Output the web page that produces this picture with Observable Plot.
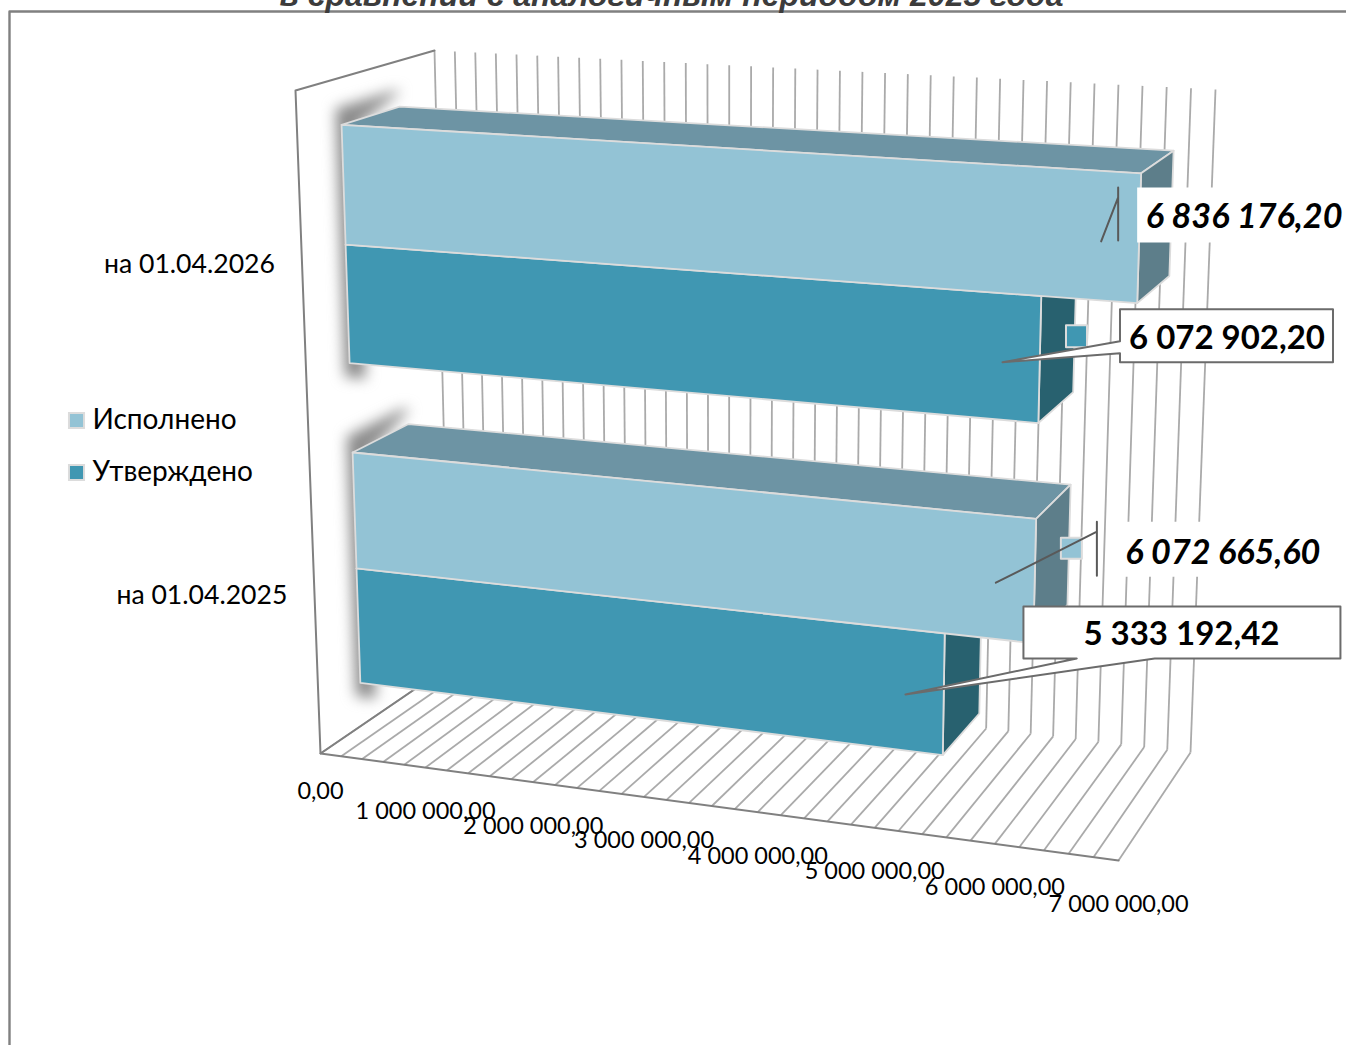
<!DOCTYPE html>
<html>
<head>
<meta charset="utf-8">
<script src="https://cdn.jsdelivr.net/npm/d3@7"></script>
<script src="https://cdn.jsdelivr.net/npm/@observablehq/plot@0.6"></script>
<style>html,body{margin:0;padding:0;background:#fff;overflow:hidden}svg{display:block}</style>
</head>
<body>
<div id="chart"></div>
<script>
const titleText = "в сравнении с аналогичным периодом 2025 года";
const periods = ["на 01.04.2026", "на 01.04.2025"];
const executed = [6836176.20, 6072665.60];
const approved = [6072902.20, 5333192.42];
const seriesNames = ["Исполнено", "Утверждено"];
const axisMax = 7000000;
const gridStep = 200000;
const labelStep = 1000000;

const executedColors = {front: "#93c3d5", top: "#6d94a4", side: "#5d7e8a"};
const approvedColors = {front: "#4097b2", top: "#6d94a4", side: "#28616f"};
const FONT = "Lato, 'Noto Sans', sans-serif";

// oblique view of the chart box: corners of the value (u), height (v) and depth (w) axes
const box = {
  flt: [295, 90], flb: [320, 753], frt: [1139, 139], frb: [1118, 860],
  blt: [434, 50], blb: [449, 665], brt: [1215, 89], brb: [1190, 752]
};
const lerp = (a, b, t) => [a[0] + (b[0] - a[0]) * t, a[1] + (b[1] - a[1]) * t];
const persU = t => t / (1.1 - 0.1 * t);
const persV = t => t / (0.967 + 0.033 * t);
function project(value, v, w) {
  const u = persU(value / axisMax), h = persV(v);
  const front = lerp(lerp(box.flt, box.frt, u), lerp(box.flb, box.frb, u), h);
  const back = lerp(lerp(box.blt, box.brt, u), lerp(box.blb, box.brb, u), h);
  const p = lerp(front, back, w);
  return {x: p[0], y: p[1]};
}
const fmt = d3.formatLocale({decimal: ",", thousands: " ", grouping: [3], currency: ["", ""]}).format(",.2f");

const wFront = 0.32, wBack = 0.74;
const bandSize = 1 / periods.length, outerGap = 0.0705, barSize = 0.181;

const poly = (pts, o) => Plot.line(pts, {x: "x", y: "y", curve: "linear-closed", ...o});
const edge = {stroke: "#dcdcdc", strokeWidth: 1.8, strokeLinejoin: "round"};

function barFaces(value, v0, v1, colors) {
  return [
    poly([project(0, v0, wBack), project(value, v0, wBack), project(value, v0, wFront), project(0, v0, wFront)], {fill: colors.top, ...edge}),
    poly([project(value, v0, wFront), project(value, v0, wBack), project(value, v1, wBack), project(value, v1, wFront)], {fill: colors.side, ...edge}),
    poly([project(0, v0, wFront), project(value, v0, wFront), project(value, v1, wFront), project(0, v1, wFront)], {fill: colors.front, ...edge})
  ];
}

function barShadow(v0, v1) {
  const sv0 = v0 - 0.024, sv1 = v1 + 0.022, left = -50000, right = 150000;
  return poly([
    project(left, sv0, wFront), project(left, sv0, wBack), project(15000, sv0, wBack),
    project(right, v0, wFront), project(right, sv1, wFront), project(left, sv1, wFront)
  ], {fill: "#8a8a8a", imageFilter: "blur(7px)"});
}

// value grid
const gridValues = d3.range(0, axisMax + 1, gridStep);
const labelValues = d3.range(0, axisMax + 1, labelStep);
const gridWall = gridValues.map(d => ({a: project(d, 0, 1), b: project(d, 1, 1)}));
const gridFloor = gridValues.map(d => ({a: project(d, 1, 1), b: project(d, 1, 0)}));
const gridStyle = {x1: d => d.a.x, y1: d => d.a.y, x2: d => d.b.x, y2: d => d.b.y, stroke: "#aaaaaa", strokeWidth: 1.8};

const tickData = labelValues.map(d => ({...project(d, 1, 0), label: fmt(d), value: d}));

// per-period bars
const bars = periods.flatMap((p, i) => {
  const v0 = i * bandSize + outerGap, vm = v0 + barSize, v1 = vm + barSize;
  return [
    barShadow(v0, v1),
    ...barFaces(approved[i], vm, v1, approvedColors),
    ...barFaces(executed[i], v0, vm, executedColors)
  ];
});

const catData = periods.map((p, i) => ({...project(0, (i + 0.5) * bandSize, 0), label: p}));

// callouts: offsets in pixels from the end of each bar's front face
const barEnd = (value, i, k) => {
  const v0 = i * bandSize + outerGap + k * barSize;
  return project(value, v0 + barSize * 0.5, wFront);
};
const off = (a, dx, dy) => ({x: a.x + dx, y: a.y + dy});
const aE0 = barEnd(executed[0], 0, 0), aA0 = barEnd(approved[0], 0, 1);
const aE1 = barEnd(executed[1], 1, 0), aA1 = barEnd(approved[1], 1, 1);
const rectOf = (a, dx0, dy0, dx1, dy1) => [off(a, dx0, dy0), off(a, dx1, dy0), off(a, dx1, dy1), off(a, dx0, dy1)];
const leaderStyle = {stroke: "#595959", strokeWidth: 2};
const boxStroke = {stroke: "#6b6b6b", strokeWidth: 2, fill: "white"};
const italicValue = {x: "x", y: "y", fontFamily: FONT, fontWeight: 700, fontStyle: "italic", fontSize: 34.2, fill: "black", textAnchor: "middle"};
const plainValue = {x: "x", y: "y", fontFamily: FONT, fontWeight: 700, fontSize: 33, fill: "black", textAnchor: "middle"};

function calloutMarks() {
  const m = [];
  // executed 2026: white plate, bent leader
  m.push(poly(rectOf(aE0, -2, -51, 208, 4), {fill: "white"}));
  m.push(Plot.line([off(aE0, -38, 3), off(aE0, -21, -41), off(aE0, -21, -51), off(aE0, -21, 2)], {x: "x", y: "y", ...leaderStyle}));
  m.push(Plot.text([off(aE0, 105, -21.5)], {...italicValue, text: () => fmt(executed[0])}));
  // approved 2026
  const b0 = aA0;
  m.push(poly(rectOf(b0, 26.2, -34.5, 47.2, -12.5), {fill: approvedColors.front, stroke: "#dcdcdc", strokeWidth: 2}));
  m.push(poly([off(b0, -37.3, 2.5), off(b0, 80.2, -18.5), off(b0, 80.2, -50.5), off(b0, 293.2, -50.5), off(b0, 293.2, 2.5), off(b0, 80.2, 2.5), off(b0, 80.2, -6.5)], boxStroke));
  m.push(Plot.text([off(b0, 187.2, -21.5)], {...plainValue, text: () => fmt(approved[0])}));
  // executed 2025
  const e1 = aE1;
  m.push(poly(rectOf(e1, 76.2, -59.5, 321, -4.5), {fill: "white"}));
  m.push(poly(rectOf(e1, 26.2, -43.5, 47.2, -22.5), {fill: executedColors.front, stroke: "#dcdcdc", strokeWidth: 2}));
  m.push(Plot.line([off(e1, -38.8, 1.5), off(e1, 62.2, -49.5), off(e1, 62.2, -59.5), off(e1, 62.2, -5.5)], {x: "x", y: "y", ...leaderStyle}));
  m.push(Plot.text([off(e1, 188.2, -28.5)], {...italicValue, text: () => fmt(executed[1])}));
  // approved 2025
  const b1 = aA1;
  m.push(poly([off(b1, -38.3, 0), off(b1, 133, -36), off(b1, 79.7, -36), off(b1, 79.7, -88), off(b1, 396.7, -88), off(b1, 396.7, -36), off(b1, 211, -36)], boxStroke));
  m.push(Plot.text([off(b1, 237.7, -60)], {...plainValue, text: () => fmt(approved[1])}));
  return m;
}

const legendData = seriesNames.map((name, i) => ({name, i, color: i === 0 ? executedColors.front : approvedColors.front}));

const chart = Plot.plot({
  width: 1346, height: 1045,
  margin: 0,
  x: {type: "linear", domain: [0, 1346], range: [0, 1346], axis: null},
  y: {type: "linear", domain: [0, 1045], range: [0, 1045], axis: null},
  style: {background: "#fff"},
  marks: [
    // chart frame and title
    Plot.line([{x: 1346, y: 11}, {x: 9, y: 11}, {x: 9, y: 1045}], {x: "x", y: "y", stroke: "#808080", strokeWidth: 2.4}),
    Plot.text([titleText], {x: () => 671, y: () => 5, text: d => d, lineAnchor: "bottom", fontFamily: "'Liberation Sans', Arial, sans-serif", fontWeight: 700, fontStyle: "italic", fontSize: 32, fill: "#3c3c3c", textAnchor: "middle"}),
    // walls
    Plot.link(gridWall, gridStyle),
    Plot.link(gridFloor, gridStyle),
    Plot.line([project(0, 1, 1), project(0, 1, 0), project(0, 0, 0), project(0, 0, 1)], {x: "x", y: "y", stroke: "#808080", strokeWidth: 2}),
    Plot.line([project(0, 1, 0), project(axisMax, 1, 0)], {x: "x", y: "y", stroke: "#808080", strokeWidth: 2}),
    ...bars,
    // axis labels
    Plot.text(tickData.filter(d => d.value > 0), {x: "x", y: "y", text: "label", dy: 44, fontFamily: FONT, fontSize: 23.5, fill: "black", textAnchor: "middle"}),
    Plot.text(tickData.filter(d => d.value === 0), {x: "x", y: "y", text: "label", dy: 38, fontFamily: FONT, fontSize: 23.5, fill: "black", textAnchor: "middle"}),
    Plot.text(catData, {x: "x", y: "y", text: "label", dx: -27, dy: 4, fontFamily: FONT, fontSize: 26.6, fill: "black", textAnchor: "end"}),
    // legend
    Plot.dot(legendData, {x: () => 76, y: d => 420 + d.i * 52, r: 8.5, symbol: "square", fill: "color", stroke: "#dcdcdc", strokeWidth: 2}),
    Plot.text(legendData, {x: () => 92, y: d => 420 + d.i * 52, text: "name", fontFamily: FONT, fontSize: 28, fill: "black", textAnchor: "start"}),
    ...calloutMarks()
  ]
});
document.getElementById("chart").appendChild(chart);
</script>
</body>
</html>
